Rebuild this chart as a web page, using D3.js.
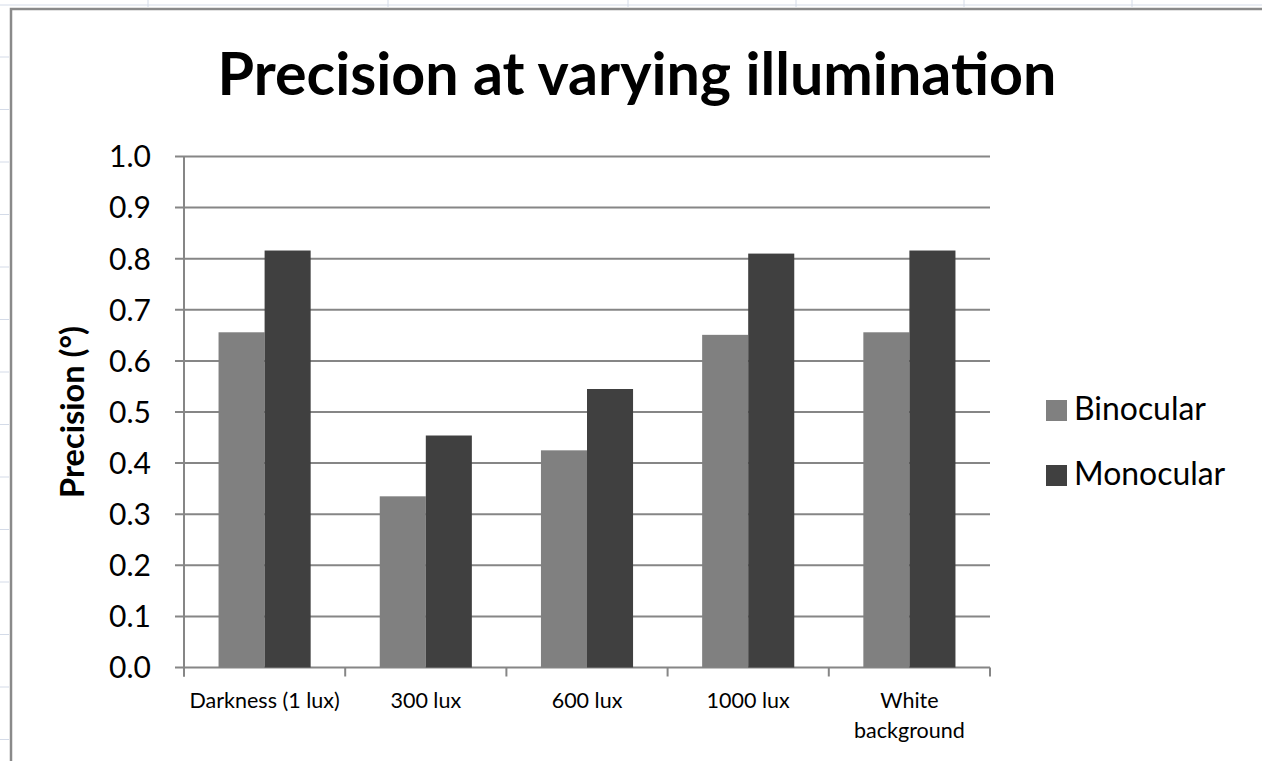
<!DOCTYPE html>
<html><head><meta charset="utf-8">
<script src="https://cdn.jsdelivr.net/npm/d3@7"></script>
<style>body{margin:0;background:#fff;overflow:hidden}svg{display:block}</style>
</head><body>
<svg id="c" width="1262" height="761"></svg>
<script>
const categories = [["Darkness (1 lux)"], ["300 lux"], ["600 lux"], ["1000 lux"], ["White", "background"]];
const seriesNames = ["Binocular", "Monocular"];
const binocular = [0.656, 0.335, 0.425, 0.651, 0.656];
const monocular = [0.816, 0.454, 0.545, 0.810, 0.816];
const yTicks = [0, 0.1, 0.2, 0.3, 0.4, 0.5, 0.6, 0.7, 0.8, 0.9, 1.0];
const colors = ["#808080", "#404040"];
const title = "Precision at varying illumination";
const yTitle = "Precision (°)";

const svg = d3.select("#c");
const font = "Lato, 'Open Sans', sans-serif";

function fitWidth(sel, target) {
  const fs = +sel.attr("font-size");
  const w = sel.node().getComputedTextLength();
  sel.attr("font-size", fs * target / w);
}

// spreadsheet background lines
const sheet = svg.append("g");
sheet.append("line").attr("x1",0).attr("x2",1262).attr("y1",5).attr("y2",5).attr("stroke","#d4dbe8").attr("stroke-width",1);
[148, 388, 628, 796, 964, 1132].forEach(x => sheet.append("line").attr("x1",x).attr("x2",x).attr("y1",0).attr("y2",7).attr("stroke","#d4dbe8"));
d3.range(0, 14).forEach(i => { const y = 57 + 52.5*i; sheet.append("line").attr("x1",0).attr("x2",9).attr("y1",y).attr("y2",y).attr("stroke","#d4dbe8"); });

// chart border
svg.append("path").attr("d","M11,761 V9 H1262").attr("fill","none").attr("stroke","#8a8a8a").attr("stroke-width",2.5);

const x0 = 184, x1 = 990, yTop = 156.5, yBot = 667.5;
const x = d3.scaleBand().domain(d3.range(categories.length)).range([x0, x1]).paddingInner(0).paddingOuter(0);
const y = d3.scaleLinear().domain([0, 1]).range([yBot, yTop]);

const gridColor = "#868686";
svg.append("g").selectAll("line").data(yTicks).join("line")
  .attr("x1", x0 - 9).attr("x2", x1).attr("y1", d => y(d)).attr("y2", d => y(d))
  .attr("stroke", gridColor).attr("stroke-width", 2);

const bw = x.bandwidth() / 3.5;
const data = [binocular, monocular];
data.forEach((vals, si) => {
  svg.append("g").selectAll("rect").data(vals).join("rect")
    .attr("x", (d, i) => x(i) + bw*0.75 + si*bw)
    .attr("y", d => y(d))
    .attr("width", bw)
    .attr("height", d => yBot - y(d))
    .attr("fill", colors[si]);
});

svg.append("line").attr("x1", x0).attr("x2", x0).attr("y1", yTop).attr("y2", yBot + 9).attr("stroke", gridColor).attr("stroke-width", 2);
svg.append("g").selectAll("line").data(d3.range(categories.length + 1)).join("line")
  .attr("x1", i => x0 + i * x.step()).attr("x2", i => x0 + i * x.step())
  .attr("y1", yBot).attr("y2", yBot + 9).attr("stroke", gridColor).attr("stroke-width", 2);

// y tick labels
svg.append("g").selectAll("text").data(yTicks).join("text")
  .attr("x", 151).attr("y", d => y(d)).attr("dy", "0.36em")
  .attr("text-anchor", "end").attr("font-family", font).attr("font-size", 30).attr("fill", "#000")
  .text(d => d.toFixed(1));

// x labels
categories.forEach((lines, i) => {
  const cx = x(i) + x.bandwidth()/2;
  const t = svg.append("text").attr("x", cx).attr("y", 708)
    .attr("text-anchor", "middle").attr("font-family", font).attr("font-size", 21.5).attr("fill", "#000");
  lines.forEach((l, j) => t.append("tspan").attr("x", cx).attr("dy", j ? 30 : 0).text(l));
});

// title
const tt = svg.append("text").attr("x", 637).attr("y", 95).attr("text-anchor", "middle")
  .attr("font-family", font).attr("font-weight", "bold").attr("font-size", 50).attr("fill", "#000").text(title);
fitWidth(tt, 839);

// y title
const yt = svg.append("text").attr("transform", "translate(84,412) rotate(-90)").attr("text-anchor", "middle")
  .attr("font-family", font).attr("font-weight", "bold").attr("font-size", 30).attr("fill", "#000").text(yTitle);
fitWidth(yt, 172);

// legend
seriesNames.forEach((n, i) => {
  const ly = 400 + i * 65;
  svg.append("rect").attr("x", 1046).attr("y", ly).attr("width", 21).attr("height", 21).attr("fill", colors[i]);
  const lt = svg.append("text").attr("x", 1074).attr("y", ly + 9).attr("dy", "0.36em")
    .attr("font-family", font).attr("font-size", 30).attr("fill", "#000").text(n);
  if (i === 0) fitWidth(lt, 132);
  else lt.attr("font-size", svg.select("text[data-l]").empty() ? null : null);
});
// keep legend fonts equal
const legTexts = svg.selectAll("text").filter(function(){ return seriesNames.includes(d3.select(this).text()); });
const fs0 = legTexts.nodes()[0].getAttribute("font-size");
legTexts.attr("font-size", fs0);
</script>
</body></html>
